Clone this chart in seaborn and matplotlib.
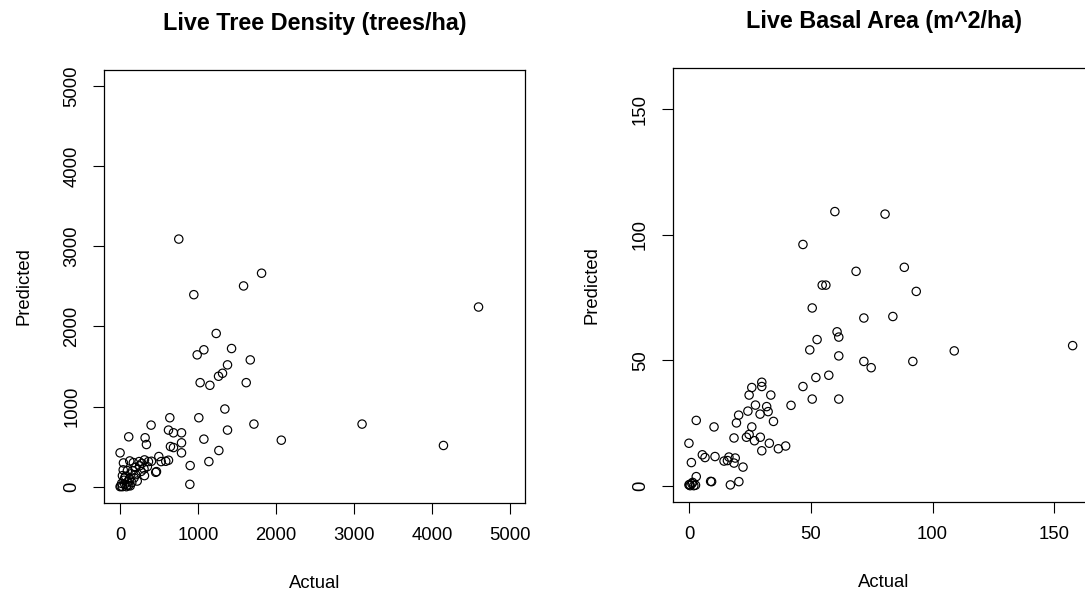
import matplotlib
matplotlib.use('Agg')
import matplotlib.pyplot as plt
import seaborn as sns
import pandas as pd

density_actual = [753, 1815, 1584, 946, 4598, 1233, 1430, 1075, 989, 1670,
                  1378, 1314, 1263, 1027, 1152, 1618, 1344, 1010, 638, 398,
                  621, 685, 788, 1378, 1717, 3104, 2068, 4148, 1075, 111,
                  321, 338, 788, 646, 685, 788, 1267, 0, 497, 621,
                  586, 527, 402, 364, 313, 244, 124, 43, 1139, 899,
                  467, 313, 895, 170, 280, 200, 307, 457, 94, 30,
                  70, 120, 50, 100, 20, 60, 90, 150, 130, 0,
                  10, 30, 80, 110, 200, 250, 180, 220, 60, 160,
                  350, 270, 40, 140]
density_pred = [3090, 2664, 2505, 2396, 2242, 1912, 1724, 1708, 1645, 1582,
                1520, 1415, 1378, 1298, 1265, 1298, 969, 860, 860, 768,
                706, 672, 672, 706, 781, 781, 580, 514, 593, 622,
                610, 526, 547, 501, 488, 422, 451, 422, 376, 330,
                317, 313, 317, 313, 334, 313, 321, 296, 313, 263,
                188, 138, 29, 300, 290, 241, 221, 179, 200, 137,
                130, 100, 80, 60, 40, 30, 20, 50, 10, 0,
                5, 0, 0, 15, 150, 260, 110, 70, 110, 200,
                250, 190, 210, 160]

basal_actual = [59.9, 80.5, 46.8, 88.4, 68.6, 54.7, 56.2, 93.3, 50.6, 71.8,
                83.7, 60.8, 61.5, 52.6, 157.5, 49.6, 108.9, 61.5, 71.8, 74.8,
                91.9, 52.1, 57.4, 46.8, 50.6, 61.5, 41.9, 29.9, 29.9, 25.8,
                33.6, 24.7, 27.3, 31.9, 32.5, 29.2, 24.2, 20.4, 34.7, 19.5,
                3.0, 10.3, 25.8, 24.7, 23.6, 18.5, 29.3, 26.9, 33.0, 36.7,
                39.7, 29.9, 0.0, 1.0, 5.5, 6.6, 10.7, 14.4, 15.8, 16.4,
                19.0, 18.5, 22.2, 3.0, 8.9, 9.3, 17.0, 20.5, 0.0, 0.5,
                1.2, 2.0, 2.7, 1.5, 0.3]
basal_pred = [109.2, 108.2, 96.1, 87.0, 85.4, 79.9, 79.9, 77.4, 70.8, 66.8,
              67.4, 61.3, 59.2, 58.2, 55.8, 54.1, 53.7, 51.7, 49.5, 47.0,
              49.5, 43.1, 44.0, 39.5, 34.5, 34.5, 32.0, 41.2, 39.5, 39.1,
              36.1, 36.1, 32.1, 31.5, 29.5, 28.5, 29.7, 28.1, 25.6, 25.0,
              26.0, 23.4, 23.4, 20.4, 19.3, 19.0, 19.3, 17.9, 16.9, 14.7,
              15.8, 13.9, 16.9, 9.2, 12.3, 11.2, 11.6, 9.8, 10.0, 11.4,
              11.0, 9.0, 7.4, 3.6, 1.7, 1.6, 0.3, 1.6, 0.3, 0.0,
              0.8, 0.0, 0.2, 1.3, 0.5]

density_ticks = [0, 1000, 2000, 3000, 4000, 5000]
basal_ticks = [0, 50, 100, 150]

sns.set_style('white')
plt.rcParams['font.family'] = ['Liberation Sans', 'DejaVu Sans']
plt.rcParams['text.color'] = 'black'
plt.rcParams['axes.labelcolor'] = 'black'

fig = plt.figure(figsize=(10.85, 6), dpi=100)
ax1 = fig.add_axes([0.0963, 0.1622, 0.3880, 0.7211])
ax2 = fig.add_axes([0.6206, 0.1638, 0.3880, 0.7228])

panels = [
    (ax1, density_actual, density_pred, 'Live Tree Density (trees/ha)', density_ticks, (-200, 5200)),
    (ax2, basal_actual, basal_pred, 'Live Basal Area (m^2/ha)', basal_ticks, (-6.4, 166.4)),
]

for ax, act, pred, title, ticks, lims in panels:
    df = pd.DataFrame({'Actual': act, 'Predicted': pred})
    sns.scatterplot(data=df, x='Actual', y='Predicted', ax=ax, marker='o', s=36,
                    color='black', facecolor='none', edgecolor='black', linewidth=0.85)
    ax.set_xlim(*lims)
    ax.set_ylim(*lims)
    ax.set_xticks(ticks)
    ax.set_yticks(ticks)
    ax.set_xticklabels([str(t) for t in ticks])
    ax.set_yticklabels([str(t) for t in ticks], rotation=90, va='center')
    ax.tick_params(axis='both', direction='out', length=8, width=0.8, pad=9.5,
                   labelsize=13.3, colors='black', labelcolor='black',
                   bottom=True, left=True)
    for sp in ax.spines.values():
        sp.set_visible(True)
        sp.set_color('black')
        sp.set_linewidth(0.9)
    ax.set_xlabel('Actual', fontsize=13.3, color='black')
    ax.set_ylabel('Predicted', fontsize=13.3, color='black')
    ax.xaxis.set_label_coords(0.5, -0.166)
    ax.yaxis.set_label_coords(-0.172, 0.5)
    ax.set_title(title, fontsize=16.8, fontweight='bold', color='black', pad=29)
    ax.grid(False)

fig.savefig('out.png', dpi=100)
print("Saved out.png")
